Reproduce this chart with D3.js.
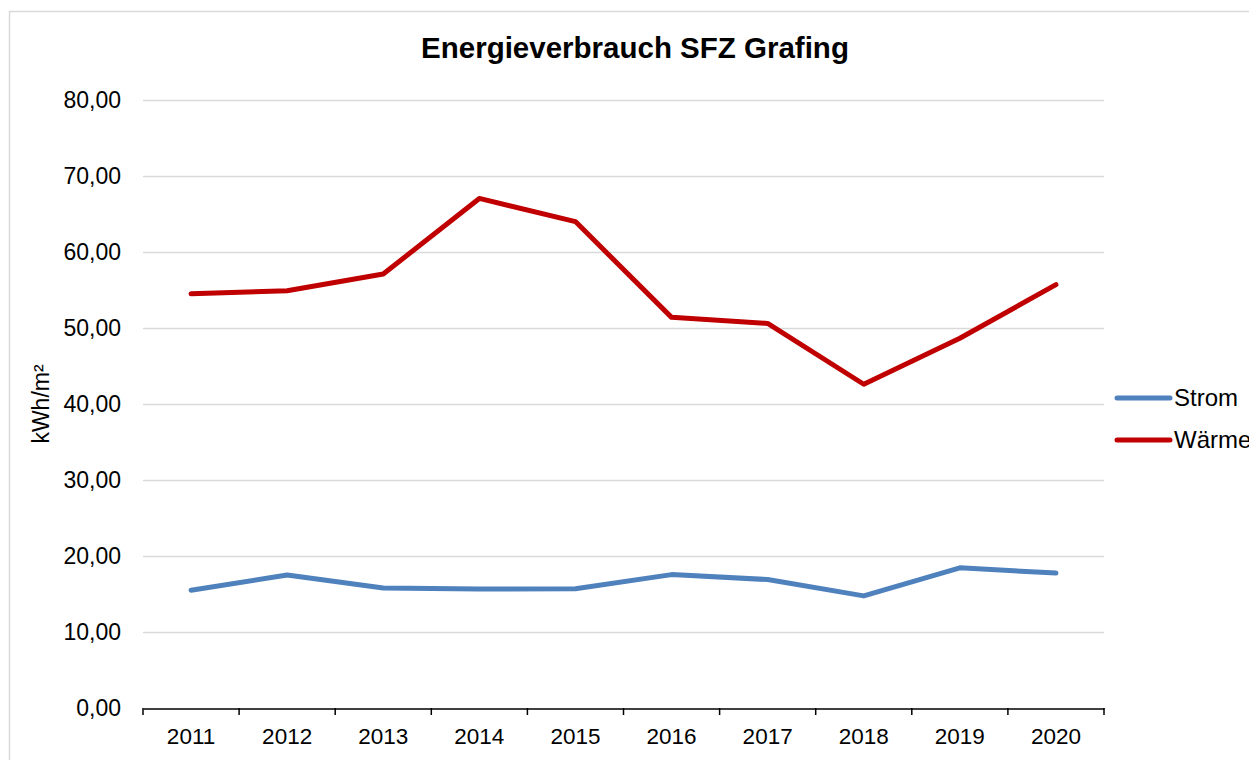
<!DOCTYPE html>
<html><head><meta charset="utf-8">
<script src="https://cdn.jsdelivr.net/npm/d3@7"></script>
<style>body{margin:0;background:#fff}svg{display:block}text{font-family:"Liberation Sans",Arial,sans-serif}</style>
</head><body>
<svg id="c" width="1249" height="760"></svg>
<script>
const years = ["2011","2012","2013","2014","2015","2016","2017","2018","2019","2020"];
const strom = [15.5,17.5,15.8,15.65,15.7,17.55,16.9,14.75,18.45,17.75];
const waerme = [54.5,54.9,57.1,67.05,64.0,51.4,50.6,42.6,48.65,55.7];
const yTicks = [0,10,20,30,40,50,60,70,80];
const seriesNames = ["Strom","Wärme"];
const colors = ["#4f81bd","#c00000"];

const svg = d3.select("#c");
svg.append("rect").attr("x",9.5).attr("y",11.5).attr("width",1260).attr("height",760)
  .attr("fill","#fff").attr("stroke","#d9d9d9").attr("stroke-width",1.5);

const L=143, R=1104, T=100, B=708;
const x = d3.scaleBand().domain(years).range([L,R]);
const y = d3.scaleLinear().domain([0,80]).range([B,T]);
const fmt = v => d3.format(".2f")(v).replace(".",",");

// gridlines
svg.append("g").selectAll("line").data(yTicks.filter(d=>d>0)).join("line")
  .attr("x1",L).attr("x2",R).attr("y1",d=>Math.round(y(d))+0.5).attr("y2",d=>Math.round(y(d))+0.5)
  .attr("stroke","#d9d9d9").attr("stroke-width",1.5);

// y labels
svg.append("g").selectAll("text").data(yTicks).join("text")
  .attr("x",121).attr("y",d=>y(d)).attr("dy","0.35em").attr("text-anchor","end")
  .attr("font-size",23).attr("fill","#000").text(fmt);

// x axis
const xAxis = d3.axisBottom(x).tickSize(0).tickPadding(20);
const gx = svg.append("g").attr("transform",`translate(0,${B+0.5})`).call(xAxis);
gx.select(".domain").attr("stroke","#000").attr("stroke-width",1.5);
gx.selectAll("text").attr("font-size",22.5).attr("fill","#000").attr("font-family","Liberation Sans, Arial, sans-serif");
const bounds = years.map(d=>x(d)).concat([R]);
svg.append("g").selectAll("line").data(bounds).join("line")
  .attr("x1",d=>d).attr("x2",d=>d).attr("y1",B).attr("y2",B+7)
  .attr("stroke","#000").attr("stroke-width",1.5);

// lines
const line = d3.line().x((d,i)=>x(years[i])+x.bandwidth()/2).y(d=>y(d));
[strom,waerme].forEach((s,i)=>{
  svg.append("path").datum(s).attr("d",line).attr("fill","none")
    .attr("stroke",colors[i]).attr("stroke-width",5).attr("stroke-linejoin","round").attr("stroke-linecap","round");
});

// title
svg.append("text").attr("x",635).attr("y",58).attr("text-anchor","middle")
  .attr("font-size",29.5).attr("font-weight","bold").attr("fill","#000").text("Energieverbrauch SFZ Grafing");

// y title
svg.append("text").attr("transform","translate(49,404) rotate(-90)").attr("text-anchor","middle")
  .attr("font-size",23).attr("fill","#000").text("kWh/m²");

// legend
seriesNames.forEach((n,i)=>{
  const yy = 398 + i*42;
  svg.append("line").attr("x1",1117).attr("x2",1170).attr("y1",yy).attr("y2",yy)
    .attr("stroke",colors[i]).attr("stroke-width",5).attr("stroke-linecap","round");
  svg.append("text").attr("x",1174).attr("y",yy).attr("dy","0.35em").attr("font-size",24).attr("fill","#000").text(n);
});
</script>
</body></html>
